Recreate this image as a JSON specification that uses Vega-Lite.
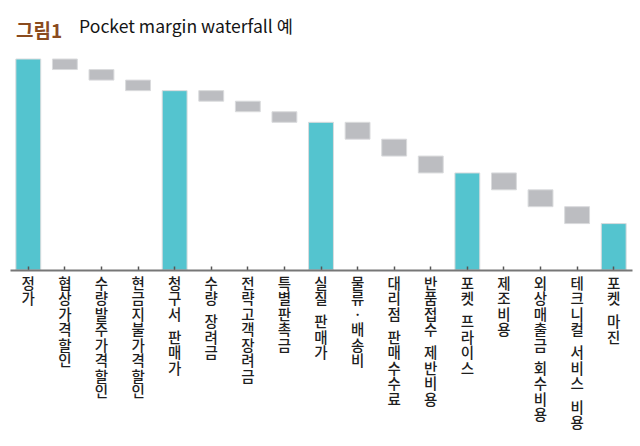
{
  "$schema": "https://vega.github.io/schema/vega-lite/v6.json",
  "width": 622,
  "height": 211,
  "padding": {"left": 10, "right": 8, "top": 18, "bottom": 5},
  "background": "white",
  "title": {
    "text": "그림1",
    "subtitle": "\u200b\u00a0\u00a0\u00a0\u00a0\u00a0\u00a0\u00a0\u00a0\u00a0\u00a0\u00a0\u00a0\u00a0\u00a0\u00a0\u00a0Pocket margin waterfall 예",
    "anchor": "start",
    "frame": "group",
    "dx": 6,
    "font": "Noto Sans CJK KR",
    "fontSize": 19,
    "fontWeight": "bold",
    "color": "#8A4B1E",
    "subtitleFont": "Noto Sans CJK KR",
    "subtitleFontSize": 17.6,
    "subtitleFontWeight": "normal",
    "subtitleColor": "#151515",
    "subtitlePadding": -23,
    "offset": 13
  },
  "config": {
    "view": {"stroke": null},
    "font": "Noto Sans CJK KR"
  },
  "data": {
    "values": [
      {"name": "정가", "start": 0, "end": 100, "type": "total"},
      {"name": "협상가격할인", "start": 100, "end": 95, "type": "cost"},
      {"name": "수량발주가격할인", "start": 95, "end": 90, "type": "cost"},
      {"name": "현금지불가격할인", "start": 90, "end": 85, "type": "cost"},
      {"name": "청구서 판매가", "start": 0, "end": 85, "type": "total"},
      {"name": "수량 장려금", "start": 85, "end": 80, "type": "cost"},
      {"name": "전략고객장려금", "start": 80, "end": 75, "type": "cost"},
      {"name": "특별판촉금", "start": 75, "end": 70, "type": "cost"},
      {"name": "실질 판매가", "start": 0, "end": 70, "type": "total"},
      {"name": "물류·배송비", "start": 70, "end": 62, "type": "cost"},
      {"name": "대리점 판매수수료", "start": 62, "end": 54, "type": "cost"},
      {"name": "반품접수 제반비용", "start": 54, "end": 46, "type": "cost"},
      {"name": "포켓 프라이스", "start": 0, "end": 46, "type": "total"},
      {"name": "제조비용", "start": 46, "end": 38, "type": "cost"},
      {"name": "외상매출금 회수비용", "start": 38, "end": 30, "type": "cost"},
      {"name": "테크니컬 서비스 비용", "start": 30, "end": 22, "type": "cost"},
      {"name": "포켓 마진", "start": 0, "end": 22, "type": "total"}
    ]
  },
  "mark": {"type": "bar", "stroke": "#DADBDD", "strokeWidth": 1},
  "encoding": {
    "x": {
      "field": "name",
      "type": "nominal",
      "sort": null,
      "scale": {"paddingInner": 0.32, "paddingOuter": 0.16},
      "axis": {
        "title": null,
        "labelAngle": 0,
        "labelExpr": "split(replace(replace(datum.label, regexp('([^ ])', 'g'), '$1|\u200b|'), regexp(' ', 'g'), '\u200b|'), '|')",
        "labelFont": "Noto Sans CJK KR",
        "labelFontSize": 14.5,
        "labelFontWeight": 500,
        "labelLineHeight": 7.75,
        "labelColor": "#1E1E1E",
        "labelBaseline": "top",
        "labelPadding": 11,
        "domainColor": "#777777",
        "domainWidth": 2,
        "tickColor": "#555555",
        "tickSize": -4,
        "tickWidth": 1.5,
        "labelOverlap": false,
        "zindex": 1
      }
    },
    "y": {
      "field": "start",
      "type": "quantitative",
      "scale": {"domain": [0, 100]},
      "axis": null
    },
    "y2": {"field": "end"},
    "color": {
      "field": "type",
      "type": "nominal",
      "scale": {"domain": ["total", "cost"], "range": ["#54C4CF", "#BCBDC1"]},
      "legend": null
    }
  }
}
